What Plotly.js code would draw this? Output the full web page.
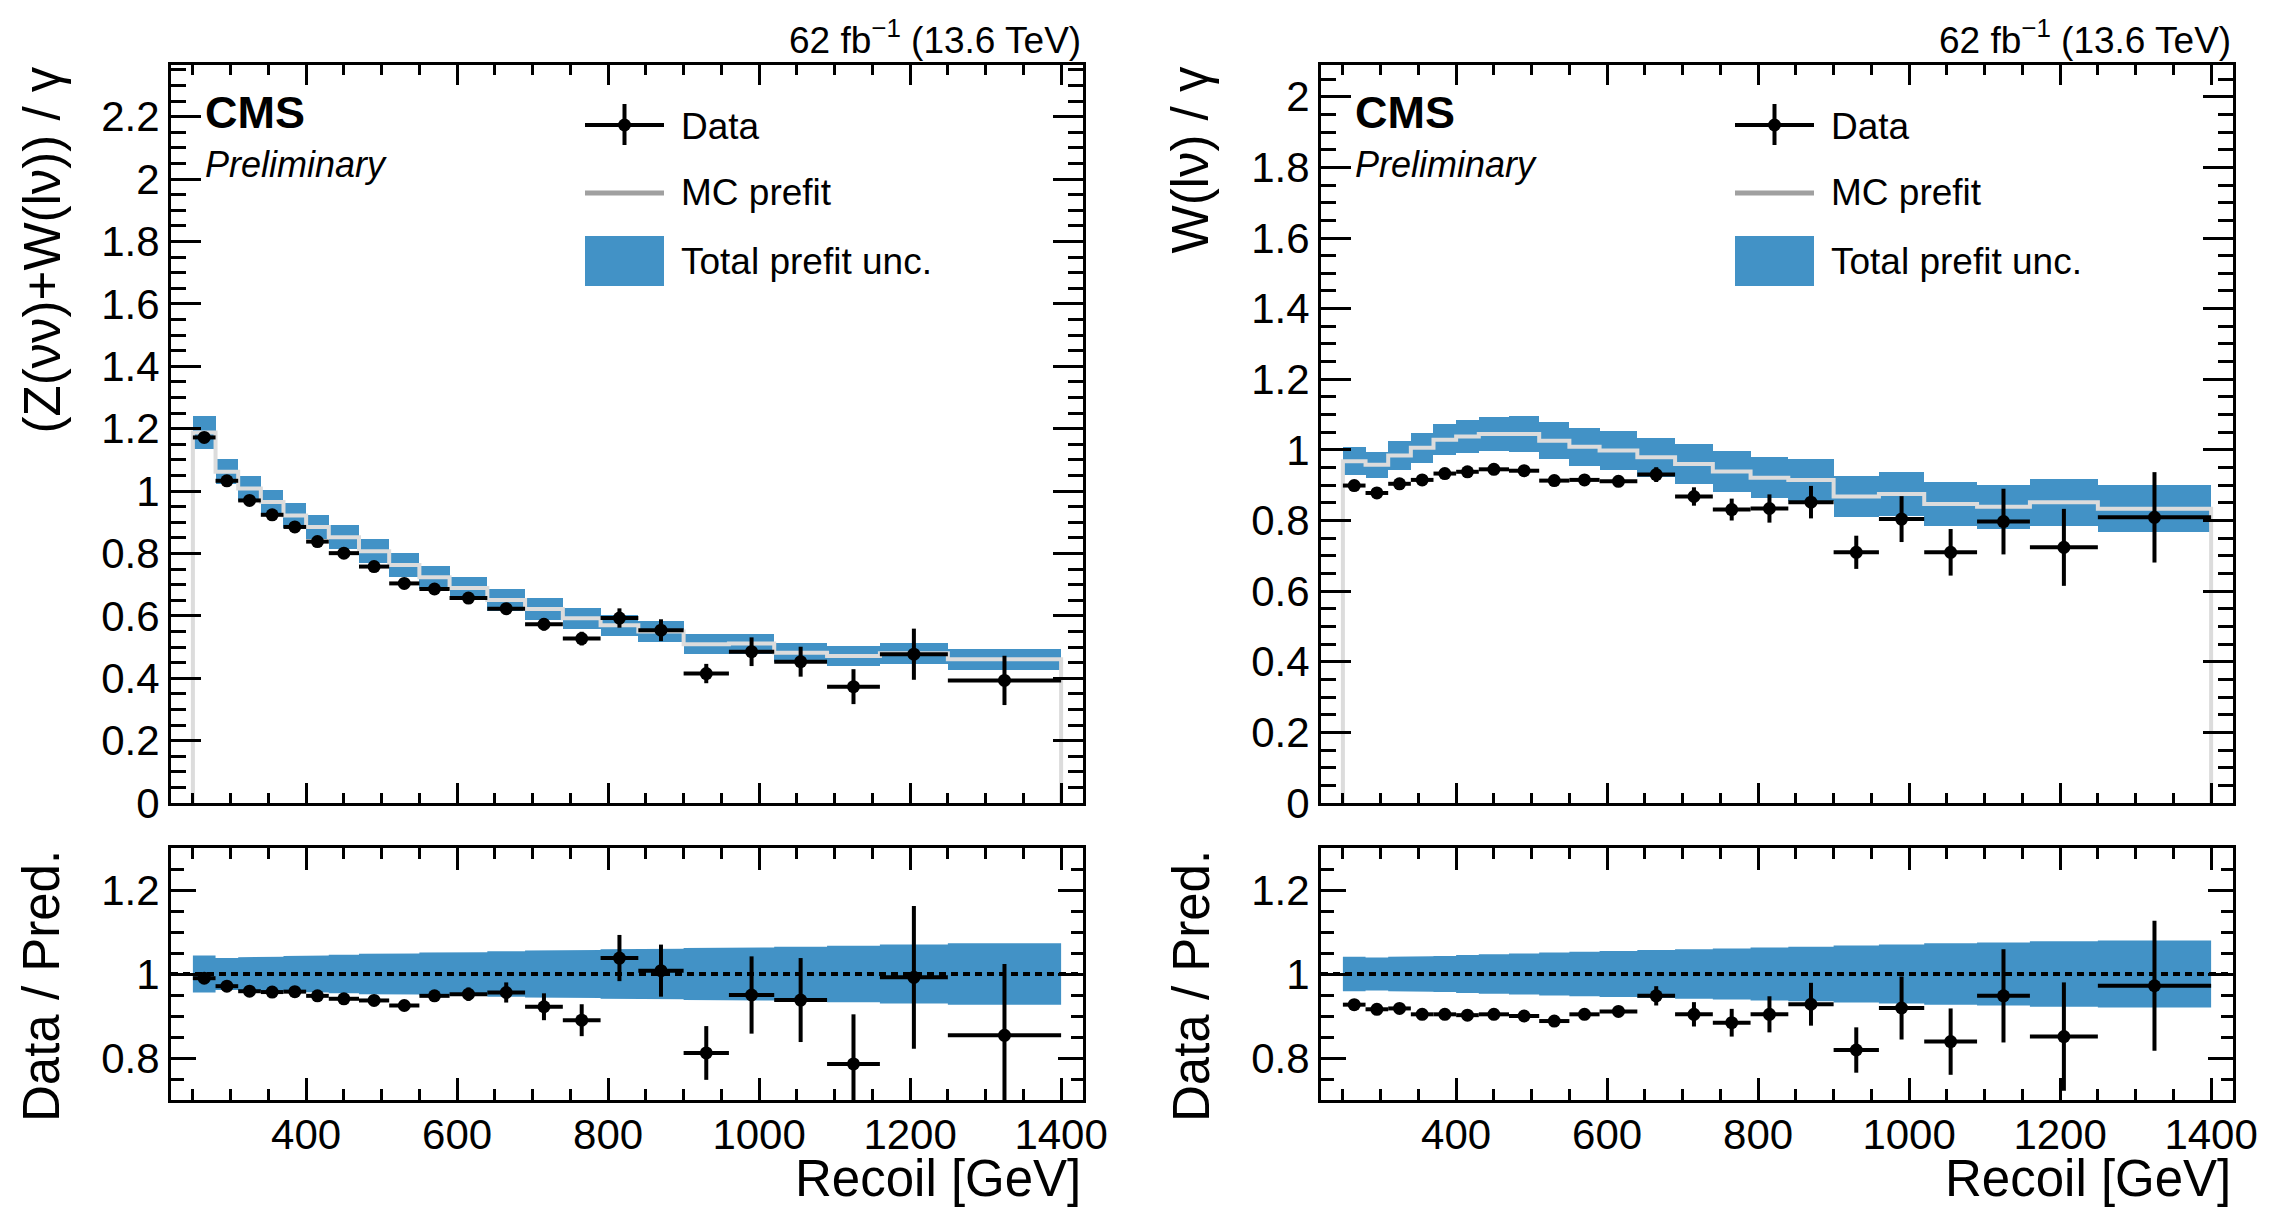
<!DOCTYPE html>
<html>
<head>
<meta charset="utf-8">
<script src="https://cdn.plot.ly/plotly-3.0.1.min.js"></script>
<style>
  html, body { margin: 0; padding: 0; background: #fff; }
  #chart { width: 2284px; height: 1222px; }
</style>
</head>
<body>
<div id="chart"></div>
<script>
// ---------------------------------------------------------------------------
//  Data (recoil binning shared by both panels)
// ---------------------------------------------------------------------------
const binEdges = [250, 280, 310, 340, 370, 400, 430, 470, 510, 550, 590, 640,
                  690, 740, 790, 840, 900, 960, 1020, 1090, 1160, 1250, 1400];

// Left: (Z(vv)+W(lv)) / gamma
const zwData    = [1.172, 1.033, 0.970, 0.924, 0.885, 0.838, 0.801, 0.758, 0.704, 0.686, 0.657,
                   0.623, 0.573, 0.527, 0.593, 0.554, 0.415, 0.485, 0.453, 0.373, 0.477, 0.393];
const zwDataErr = [0.008, 0.007, 0.007, 0.007, 0.007, 0.007, 0.008, 0.008, 0.008, 0.009, 0.011,
                   0.016, 0.020, 0.022, 0.031, 0.035, 0.031, 0.046, 0.048, 0.056, 0.082, 0.079];
const zwMC      = [1.188, 1.062, 1.008, 0.965, 0.922, 0.885, 0.852, 0.807, 0.763, 0.724, 0.689,
                   0.651, 0.622, 0.592, 0.570, 0.550, 0.509, 0.511, 0.482, 0.471, 0.480, 0.461];
const zwRelUnc  = [0.044, 0.038, 0.040, 0.041, 0.043, 0.044, 0.046, 0.048, 0.049, 0.051, 0.052,
                   0.054, 0.056, 0.057, 0.059, 0.060, 0.062, 0.063, 0.065, 0.067, 0.070, 0.073];
const zwRatio   = [0.990, 0.971, 0.959, 0.957, 0.958, 0.948, 0.941, 0.937, 0.925, 0.948, 0.952,
                   0.956, 0.922, 0.890, 1.038, 1.008, 0.812, 0.950, 0.938, 0.786, 0.992, 0.854];
const zwRatioErr= [0.007, 0.007, 0.007, 0.007, 0.008, 0.008, 0.009, 0.010, 0.011, 0.013, 0.016,
                   0.024, 0.032, 0.038, 0.055, 0.062, 0.064, 0.092, 0.100, 0.118, 0.170, 0.170];

// Right: W(lv) / gamma
const wData     = [0.899, 0.878, 0.904, 0.915, 0.933, 0.938, 0.945, 0.941, 0.913, 0.915, 0.911,
                   0.930, 0.868, 0.831, 0.834, 0.852, 0.710, 0.804, 0.710, 0.797, 0.724, 0.809];
const wDataErr  = [0.006, 0.006, 0.006, 0.007, 0.007, 0.007, 0.008, 0.008, 0.009, 0.010, 0.012,
                   0.021, 0.026, 0.031, 0.040, 0.046, 0.047, 0.065, 0.066, 0.093, 0.109, 0.128];
const wMC       = [0.968, 0.958, 0.984, 1.006, 1.029, 1.038, 1.045, 1.045, 1.026, 1.009, 0.998,
                   0.979, 0.960, 0.939, 0.921, 0.915, 0.868, 0.875, 0.847, 0.839, 0.852, 0.833];
const wRelUnc   = [0.041, 0.039, 0.041, 0.042, 0.043, 0.045, 0.047, 0.049, 0.051, 0.053, 0.055,
                   0.057, 0.059, 0.061, 0.063, 0.065, 0.068, 0.070, 0.073, 0.075, 0.078, 0.080];
const wRatio    = [0.927, 0.916, 0.918, 0.904, 0.904, 0.902, 0.904, 0.900, 0.888, 0.904, 0.911,
                   0.948, 0.904, 0.884, 0.904, 0.928, 0.819, 0.919, 0.839, 0.948, 0.851, 0.972];
const wRatioErr = [0.006, 0.006, 0.006, 0.007, 0.007, 0.007, 0.008, 0.008, 0.009, 0.011, 0.013,
                   0.023, 0.029, 0.033, 0.043, 0.051, 0.054, 0.075, 0.079, 0.111, 0.129, 0.155];

// ---------------------------------------------------------------------------
const W = 2284, H = 1222;
const X = px => px / W;          // pixel -> paper
const Y = py => 1 - py / H;

const FONT = 'Liberation Sans, Arial, Helvetica, sans-serif';
const BAND = '#4292c6';
const MCLINE = '#dcdcdc';

const centers = binEdges.slice(0, -1).map((e, i) => (e + binEdges[i + 1]) / 2);
const halfW   = binEdges.slice(0, -1).map((e, i) => (binEdges[i + 1] - e) / 2);
const widths  = halfW.map(h => 2 * h);

// step outline of a per-bin array, optionally dropping to `floor` at both ends
function steps(vals, floor) {
  const xs = [], ys = [];
  if (floor !== undefined) { xs.push(binEdges[0]); ys.push(floor); }
  vals.forEach((v, i) => { xs.push(binEdges[i], binEdges[i + 1]); ys.push(v, v); });
  if (floor !== undefined) { xs.push(binEdges[binEdges.length - 1]); ys.push(floor); }
  return { x: xs, y: ys };
}

function panelTraces(ax, data, dataErr, mc, relUnc, ratio, ratioErr) {
  const xt = 'x' + ax.top, yt = 'y' + ax.top, xr = 'x' + ax.ratio, yr = 'y' + ax.ratio;
  const mcLine = steps(mc, 0);
  const lo = steps(relUnc.map(r => 1 - r));
  const hi = steps(relUnc.map(r => 1 + r));
  const errStyle = { type: 'data', width: 0, thickness: 4, color: 'black' };
  return [
    // prefit uncertainty boxes
    { type: 'bar', x: centers, width: widths, base: mc.map((m, i) => m * (1 - relUnc[i])),
      y: mc.map((m, i) => 2 * m * relUnc[i]), marker: { color: BAND, line: { width: 0 } },
      xaxis: xt, yaxis: yt, hoverinfo: 'skip' },
    // MC prefit step histogram
    { type: 'scatter', mode: 'lines', x: mcLine.x, y: mcLine.y,
      line: { color: MCLINE, width: 4 }, xaxis: xt, yaxis: yt },
    // data
    { type: 'scatter', mode: 'markers', x: centers, y: data,
      marker: { color: 'black', size: 13 },
      error_x: Object.assign({ array: halfW }, errStyle),
      error_y: Object.assign({ array: dataErr }, errStyle),
      xaxis: xt, yaxis: yt },
    // ratio band
    { type: 'scatter', mode: 'lines', x: lo.x, y: lo.y, line: { width: 0, color: BAND },
      xaxis: xr, yaxis: yr },
    { type: 'scatter', mode: 'lines', x: hi.x, y: hi.y, line: { width: 0, color: BAND },
      fill: 'tonexty', fillcolor: BAND, xaxis: xr, yaxis: yr },
    // ratio points
    { type: 'scatter', mode: 'markers', x: centers, y: ratio,
      marker: { color: 'black', size: 13 },
      error_x: Object.assign({ array: halfW }, errStyle),
      error_y: Object.assign({ array: ratioErr }, errStyle),
      xaxis: xr, yaxis: yr }
  ];
}

const traces = [].concat(
  panelTraces({ top: '', ratio: '2' }, zwData, zwDataErr, zwMC, zwRelUnc, zwRatio, zwRatioErr),
  panelTraces({ top: '3', ratio: '4' }, wData, wDataErr, wMC, wRelUnc, wRatio, wRatioErr)
);

// ---------------------------------------------------------------------------
//  Axes
// ---------------------------------------------------------------------------
const tickFont = { family: FONT, size: 42, color: 'black' };

function xAxis(x0, x1, anchor, labels, len) {
  return {
    domain: [X(x0), X(x1)], anchor: anchor, range: [221, 1429],
    showline: true, linewidth: 3, linecolor: 'black', mirror: 'ticks',
    ticks: 'inside', ticklen: len, tickwidth: 3, tickcolor: 'black',
    tick0: 0, dtick: 200, showticklabels: labels, tickfont: tickFont, ticklabelstandoff: -4,
    minor: { ticks: 'inside', dtick: 50, tick0: 0, ticklen: len / 2, tickwidth: 3, tickcolor: 'black' },
    showgrid: false, zeroline: false
  };
}

function yAxis(y0, y1, anchor, range, len) {
  return {
    domain: [Y(y1), Y(y0)], anchor: anchor, range: range,
    showline: true, linewidth: 3, linecolor: 'black', mirror: 'ticks',
    ticks: 'inside', ticklen: len, tickwidth: 3, tickcolor: 'black',
    tick0: 0, dtick: 0.2, tickfont: tickFont,
    minor: { ticks: 'inside', dtick: 0.05, tick0: 0, ticklen: len / 2, tickwidth: 3, tickcolor: 'black' },
    showgrid: false, zeroline: false
  };
}

const L0 = 171, L1 = 1083, DX = 1150;          // left panel edges, shift to the right panel
const TOP0 = 65, TOP1 = 803, RAT0 = 848, RAT1 = 1100;

const layout = {
  width: W, height: H,
  margin: { l: 0, r: 0, t: 0, b: 0 },
  paper_bgcolor: 'white', plot_bgcolor: 'white',
  showlegend: false, barmode: 'overlay', bargap: 0,
  font: { family: FONT, color: 'black' },
  xaxis:  xAxis(L0, L1, 'y', false, 20),
  yaxis:  yAxis(TOP0, TOP1, 'x', [0, 2.366], 30),
  xaxis2: xAxis(L0, L1, 'y2', true, 22),
  yaxis2: yAxis(RAT0, RAT1, 'x2', [0.7, 1.3], 25),
  xaxis3: xAxis(L0 + DX, L1 + DX, 'y3', false, 20),
  yaxis3: yAxis(TOP0, TOP1, 'x3', [0, 2.09], 30),
  xaxis4: xAxis(L0 + DX, L1 + DX, 'y4', true, 22),
  yaxis4: yAxis(RAT0, RAT1, 'x4', [0.7, 1.3], 25),
  shapes: [],
  annotations: []
};

// dotted unity lines in the ratio panels
['2', '4'].forEach(n => {
  layout.shapes.push({ type: 'line', xref: 'x' + n + ' domain', yref: 'y' + n,
    x0: 0, x1: 1, y0: 1, y1: 1, line: { color: 'black', width: 4, dash: '7px,5px' } });
});

function text(str, x, y, size, xanchor, extra) {
  layout.annotations.push(Object.assign({
    text: str, xref: 'paper', yref: 'paper', x: X(x), y: Y(y),
    xanchor: xanchor, yanchor: 'middle', showarrow: false,
    font: { family: FONT, size: size, color: 'black' }
  }, extra || {}));
}

const yTitles = ['(Z(νν)+W(lν)) / γ', 'W(lν) / γ'];

[0, 1].forEach(k => {
  const dx = k * DX;
  // luminosity label and CMS tag
  text('62 fb<sup>−1</sup> (13.6 TeV)', L1 + dx, 38, 37, 'right');
  text('<b>CMS</b>', 203 + dx, 112, 45, 'left');
  text('<i>Preliminary</i>', 203 + dx, 165, 36, 'left');

  // axis titles
  text(yTitles[k], 42 + k * (DX - 2), TOP0, 51, 'center', { yanchor: 'top', textangle: -90 });
  text('Data / Pred.', 42 + dx, RAT0, 51, 'center', { yanchor: 'top', textangle: -90 });
  text('Recoil [GeV]', L1 + dx, 1178, 51, 'right');

  // legend
  const lx0 = 585 + dx, lx1 = 664 + dx, lxc = (lx0 + lx1) / 2;
  layout.shapes.push(
    { type: 'line', xref: 'paper', yref: 'paper', x0: X(lx0), x1: X(lx1), y0: Y(125), y1: Y(125),
      line: { color: 'black', width: 4 } },
    { type: 'line', xref: 'paper', yref: 'paper', x0: X(lxc), x1: X(lxc), y0: Y(104), y1: Y(145),
      line: { color: 'black', width: 4 } },
    { type: 'circle', xref: 'paper', yref: 'paper', x0: X(lxc - 6.5), x1: X(lxc + 6.5),
      y0: Y(131.5), y1: Y(118.5), fillcolor: 'black', line: { width: 0 } },
    { type: 'line', xref: 'paper', yref: 'paper', x0: X(lx0), x1: X(lx1), y0: Y(193), y1: Y(193),
      line: { color: '#a0a0a0', width: 5 } },
    { type: 'rect', xref: 'paper', yref: 'paper', x0: X(lx0), x1: X(lx1), y0: Y(286), y1: Y(236),
      fillcolor: BAND, line: { width: 0 } }
  );
  text('Data', 679 + dx, 126, 37, 'left');
  text('MC prefit', 679 + dx, 193, 37, 'left');
  text('Total prefit unc.', 679 + dx, 261, 37, 'left');
});

Plotly.newPlot('chart', traces, layout, { staticPlot: true, displayModeBar: false });
</script>
</body>
</html>
